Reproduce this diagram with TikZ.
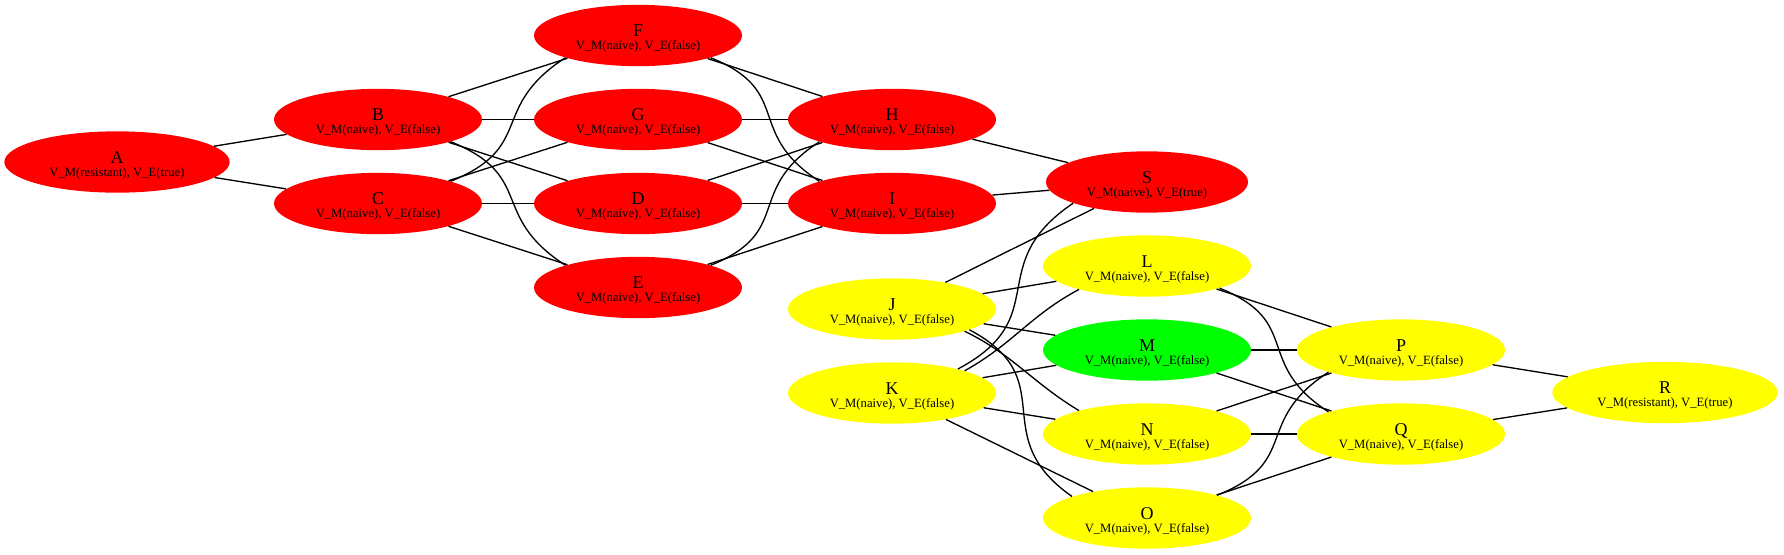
\documentclass[tikz,border=0pt]{standalone}
\usepackage{fontspec}
\setmainfont{Liberation Serif}
\usetikzlibrary{shapes.geometric}
\definecolor{vmred}{RGB}{255,0,0}
\definecolor{vmyellow}{RGB}{255,255,0}
\definecolor{vmgreen}{RGB}{0,255,0}
\newcommand{\vmstate}[2]{\makebox[0pt]{\fontsize{13.5}{14}\selectfont #1}\makebox[0pt]{\raisebox{-9.5pt}{\fontsize{9.5}{10}\selectfont #2}}}
\tikzset{
	vmnode/.style={ellipse, draw=none, inner sep=0pt, minimum width=156pt, minimum height=46pt, text height=6pt, text depth=4pt},
	widestate/.style={minimum width=169pt},
	slimstate/.style={minimum width=151.5pt},
	redstate/.style={fill=vmred},
	yellowstate/.style={fill=vmyellow},
	greenstate/.style={fill=vmgreen},
	link/.style={draw=black, line width=1pt}
}

\begin{document}
\begin{tikzpicture}[x=0.75pt, y=0.75pt]
		%%%%% START %%%%%
		\useasboundingbox (0, 0) rectangle (1784, -554);
		
		\node[vmnode, redstate, widestate] (A) at (117, -162) {\vmstate{A}{V\_M(resistant), V\_E(true)}};
		\node[vmnode, redstate] (B) at (378, -119.5) {\vmstate{B}{V\_M(naive), V\_E(false)}};
		\node[vmnode, redstate] (C) at (378, -203.5) {\vmstate{C}{V\_M(naive), V\_E(false)}};
		
		\node[vmnode, redstate] (F) at (638, -35.5) {\vmstate{F}{V\_M(naive), V\_E(false)}};
		\node[vmnode, redstate] (G) at (638, -119.5) {\vmstate{G}{V\_M(naive), V\_E(false)}};
		\node[vmnode, redstate] (D) at (638, -203.5) {\vmstate{D}{V\_M(naive), V\_E(false)}};
		\node[vmnode, redstate] (E) at (638, -287.5) {\vmstate{E}{V\_M(naive), V\_E(false)}};
		
		\node[vmnode, redstate] (H) at (892, -119.5) {\vmstate{H}{V\_M(naive), V\_E(false)}};
		\node[vmnode, redstate] (I) at (892, -203.5) {\vmstate{I}{V\_M(naive), V\_E(false)}};
		\node[vmnode, redstate, slimstate] (S) at (1147, -182) {\vmstate{S}{V\_M(naive), V\_E(true)}};
		
		\node[vmnode, yellowstate] (J) at (892, -309) {\vmstate{J}{V\_M(naive), V\_E(false)}};
		\node[vmnode, yellowstate] (K) at (892, -393) {\vmstate{K}{V\_M(naive), V\_E(false)}};
		
		\node[vmnode, yellowstate] (L) at (1147, -266) {\vmstate{L}{V\_M(naive), V\_E(false)}};
		\node[vmnode, greenstate] (M) at (1147, -350) {\vmstate{M}{V\_M(naive), V\_E(false)}};
		\node[vmnode, yellowstate] (N) at (1147, -434) {\vmstate{N}{V\_M(naive), V\_E(false)}};
		\node[vmnode, yellowstate] (O) at (1147, -518) {\vmstate{O}{V\_M(naive), V\_E(false)}};
		
		\node[vmnode, yellowstate] (P) at (1401, -350) {\vmstate{P}{V\_M(naive), V\_E(false)}};
		\node[vmnode, yellowstate] (Q) at (1401, -434) {\vmstate{Q}{V\_M(naive), V\_E(false)}};
		\node[vmnode, yellowstate, widestate] (R) at (1665, -392.5) {\vmstate{R}{V\_M(resistant), V\_E(true)}};
		
		\draw[link] (A) -- (B);
		\draw[link] (A) -- (C);
		
		\draw[link] (B) -- (F);
		\draw[link] (B) -- (G);
		\draw[link] (B) -- (D);
		\draw[link] (B.-17) to[out=-22, in=147, looseness=1.4] (E.163);
		\draw[link] (C.17) to[out=22, in=-147, looseness=1.4] (F.-163);
		\draw[link] (C) -- (G);
		\draw[link] (C) -- (D);
		\draw[link] (C) -- (E);
		
		\draw[link] (F) -- (H);
		\draw[link] (F.-17) to[out=-22, in=147, looseness=1.4] (I.163);
		\draw[link] (G) -- (H);
		\draw[link] (G) -- (I);
		\draw[link] (D) -- (H);
		\draw[link] (D) -- (I);
		\draw[link] (E.17) to[out=22, in=-147, looseness=1.4] (H.-163);
		\draw[link] (E) -- (I);
		
		\draw[link] (H) -- (S);
		\draw[link] (I) -- (S);
		\draw[link] (J) -- (S);
		\draw[link] (K.20) to[out=28, in=-146, looseness=1.4] (S.-164);
		
		\draw[link] (J) -- (L);
		\draw[link] (J) -- (M);
		\draw[link] (J.-17) to[out=-26, in=149] (N.161);
		\draw[link] (J.-15) to[out=-28, in=145, looseness=1.4] (O.164);
		\draw[link] (K.17) to[out=29, in=-152] (L.-161);
		\draw[link] (K) -- (M);
		\draw[link] (K) -- (N);
		\draw[link] (K) -- (O);
		
		\draw[link] (L) -- (P);
		\draw[link] (L.-17) to[out=-22, in=147, looseness=1.4] (Q.163);
		\draw[link] (M) -- (P);
		\draw[link] (M) -- (Q);
		\draw[link] (N) -- (P);
		\draw[link] (N) -- (Q);
		\draw[link] (O.18) to[out=22, in=-147, looseness=1.4] (P.-163);
		\draw[link] (O) -- (Q);
		
		\draw[link] (P) -- (R);
		\draw[link] (Q) -- (R);
		
		%%%%% END %%%%%
	\end{tikzpicture}
\end{document}
